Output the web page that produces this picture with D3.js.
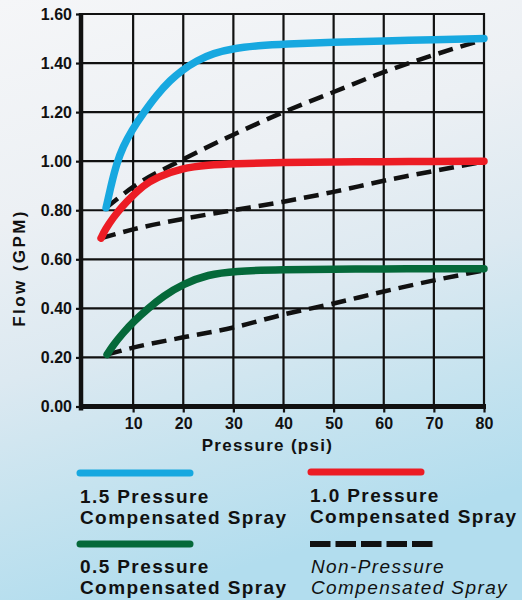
<!DOCTYPE html>
<html>
<head>
<meta charset="utf-8">
<script src="https://cdn.jsdelivr.net/npm/d3@7"></script>
<style>
  html, body { margin: 0; padding: 0; }
  svg { display: block; }
  text { font-family: "Liberation Sans", Arial, Helvetica, sans-serif; fill: #111; }
</style>
</head>
<body>
<svg id="chart" width="522" height="600"></svg>
<script>
// ---- data ----
const xTicks = [10, 20, 30, 40, 50, 60, 70, 80];
const yTicks = [0, 0.2, 0.4, 0.6, 0.8, 1.0, 1.2, 1.4, 1.6];

const pc15 = [[4.6,0.81],[5.7,0.91],[6.7,0.99],[8,1.06],[9.7,1.125],[12,1.195],[14.7,1.27],[17.4,1.33],[19.7,1.37],[22.7,1.41],[26,1.44],[30,1.46],[35,1.471],[40,1.478],[50,1.485],[60,1.49],[70,1.495],[80,1.50]];
const pc10 = [[3.6,0.686],[4.4,0.72],[6,0.77],[8,0.82],[9.7,0.855],[12,0.90],[14.7,0.935],[19.7,0.972],[25,0.985],[30,0.99],[40,0.995],[50,0.997],[60,0.998],[70,0.999],[80,1.00]];
const pc05 = [[4.8,0.212],[6,0.25],[8,0.30],[10,0.345],[13,0.40],[16,0.45],[20,0.50],[25,0.538],[30,0.552],[40,0.558],[50,0.56],[60,0.561],[70,0.562],[80,0.562]];
const npcHigh = [[4.6,0.81],[10,0.895],[20,1.008],[30,1.108],[40,1.20],[50,1.282],[60,1.363],[70,1.433],[80,1.496]];
const npcMid  = [[3.6,0.686],[10,0.722],[20,0.765],[30,0.80],[40,0.835],[50,0.875],[60,0.92],[70,0.96],[80,0.998]];
const npcLow  = [[4.8,0.212],[10,0.24],[20,0.282],[30,0.322],[40,0.375],[50,0.42],[60,0.469],[70,0.514],[80,0.555]];

const legendItems = [
  { lines: ["1.5 Pressure", "Compensated Spray"], color: "#17a8e0", dashed: false, italic: false },
  { lines: ["1.0 Pressure", "Compensated Spray"], color: "#ec1c24", dashed: false, italic: false },
  { lines: ["0.5 Pressure", "Compensated Spray"], color: "#05693a", dashed: false, italic: false },
  { lines: ["Non-Pressure", "Compensated Spray"], color: "#111111", dashed: true, italic: true }
];

// ---- drawing ----
const svg = d3.select("#chart");
const defs = svg.append("defs");
const grad = defs.append("linearGradient").attr("id", "bg")
  .attr("x1", "0").attr("y1", "0").attr("x2", "0.25").attr("y2", "1");
[["0", "#f5f6f8"], ["0.35", "#ecf0f4"], ["0.6", "#dce9f1"], ["0.8", "#c6e3ef"], ["1", "#b2ddee"]]
  .forEach(([o, c]) => grad.append("stop").attr("offset", o).attr("stop-color", c));
svg.append("rect").attr("width", 522).attr("height", 600).attr("fill", "url(#bg)");

const x = d3.scaleLinear().domain([0, 80]).range([83, 484]);
const y = d3.scaleLinear().domain([0, 1.6]).range([406.5, 14]);

// grid
const grid = svg.append("g").attr("stroke", "#111").attr("stroke-width", 2.2);
grid.selectAll(".v").data(xTicks).join("line")
  .attr("x1", d => x(d)).attr("x2", d => x(d))
  .attr("y1", y(1.6) - 1).attr("y2", y(0));
grid.selectAll(".h").data(yTicks.filter(d => d > 0)).join("line")
  .attr("x1", x(0) - 2).attr("x2", x(80) + 1)
  .attr("y1", d => y(d)).attr("y2", d => y(d));

// axes (ticks + labels)
const yAxis = svg.append("g").attr("transform", `translate(${x(0) - 2},0)`)
  .call(d3.axisLeft(y).tickValues(yTicks).tickFormat(d3.format(".2f")).tickSize(5).tickPadding(4));
const xAxis = svg.append("g").attr("transform", `translate(0,${y(0)})`)
  .call(d3.axisBottom(x).tickValues(xTicks).tickSize(6).tickPadding(5));
[yAxis, xAxis].forEach(a => {
  a.select(".domain").remove();
  a.selectAll(".tick line").attr("stroke", "#111").attr("stroke-width", 2.2);
  a.selectAll(".tick text").attr("font-size", 16).attr("font-weight", "bold").attr("fill", "#111")
    .style("font-family", '"Liberation Sans", Arial, sans-serif');
});

// thick axis lines
svg.append("line").attr("x1", x(0) - 2).attr("x2", x(0) - 2).attr("y1", y(1.6) - 1).attr("y2", y(0) + 4)
  .attr("stroke", "#111").attr("stroke-width", 4.5);
svg.append("line").attr("x1", x(0) - 4).attr("x2", x(80) + 2).attr("y1", y(0)).attr("y2", y(0))
  .attr("stroke", "#111").attr("stroke-width", 4.8);

// series
const dashLine = d3.line().x(d => x(d[0])).y(d => y(d[1])).curve(d3.curveMonotoneX);
const smoothLine = d3.line().x(d => x(d[0])).y(d => y(d[1])).curve(d3.curveBasis);
const dashG = svg.append("g").attr("fill", "none").attr("stroke", "#111").attr("stroke-width", 4.5)
  .attr("stroke-dasharray", "15,8");
[npcHigh, npcMid, npcLow].forEach(s => dashG.append("path").attr("d", dashLine(s)));

[[pc15, legendItems[0].color], [pc10, legendItems[1].color], [pc05, legendItems[2].color]].forEach(([s, c]) => {
  svg.append("path").attr("d", smoothLine(s)).attr("fill", "none").attr("stroke", c)
    .attr("stroke-width", 7.5).attr("stroke-linecap", "round").attr("stroke-linejoin", "round");
});

// axis titles
svg.append("text").attr("x", 267.5).attr("y", 451).attr("text-anchor", "middle")
  .attr("font-size", 17).attr("font-weight", "bold").attr("letter-spacing", 1.3)
  .text("Pressure (psi)");
svg.append("text").attr("transform", "translate(24.5,268) rotate(-90)").attr("text-anchor", "middle")
  .attr("font-size", 17).attr("font-weight", "bold").attr("letter-spacing", 2.4)
  .text("Flow (GPM)");

// legend
const legPos = [
  { lx: 80, ly: 473, tx: 80, ty: 503 },
  { lx: 311, ly: 472, tx: 310, ty: 502 },
  { lx: 80, ly: 544, tx: 80, ty: 573 },
  { lx: 311, ly: 544, tx: 311, ty: 573 }
];
const leg = svg.append("g");
legendItems.forEach((it, i) => {
  const p = legPos[i];
  if (it.dashed) {
    leg.append("line").attr("x1", p.lx - 1).attr("x2", p.lx + 122).attr("y1", p.ly).attr("y2", p.ly)
      .attr("stroke", it.color).attr("stroke-width", 6).attr("stroke-dasharray", "20.5,5");
  } else {
    leg.append("line").attr("x1", p.lx).attr("x2", p.lx + 110).attr("y1", p.ly).attr("y2", p.ly)
      .attr("stroke", it.color).attr("stroke-width", 7).attr("stroke-linecap", "round");
  }
  const t = leg.append("text").attr("x", p.tx).attr("y", p.ty)
    .attr("font-size", 19).attr("letter-spacing", 1.4)
    .attr("font-weight", it.italic ? "normal" : "bold")
    .attr("font-style", it.italic ? "italic" : "normal");
  it.lines.forEach((l, j) => t.append("tspan").attr("x", p.tx).attr("dy", j === 0 ? 0 : 21).text(l));
});
</script>
</body>
</html>
